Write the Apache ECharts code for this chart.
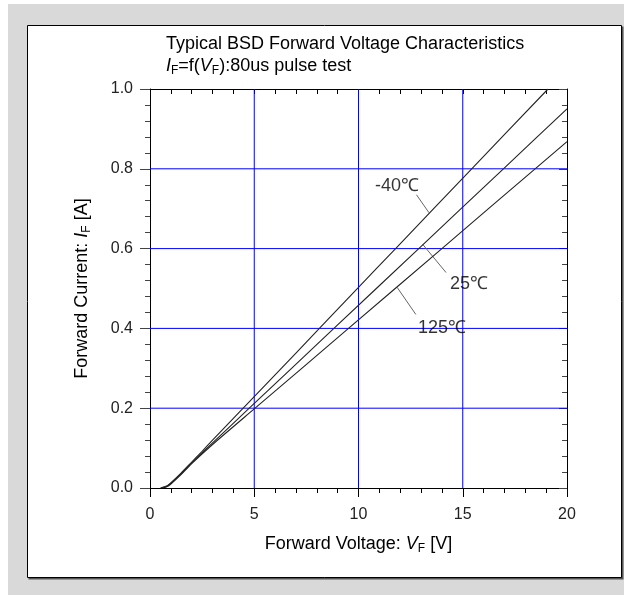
<!DOCTYPE html>
<html><head><meta charset="utf-8">
<script src="https://cdn.jsdelivr.net/npm/echarts@6/dist/echarts.min.js"></script>
<style>html,body{margin:0;padding:0;background:#fff}#c{width:630px;height:595px}</style>
</head><body><div id="c"></div>
<script>
// Data (V in volts, I in amperes)
var vNeg40 = [0.5, 0.8, 1.0, 1.5, 2.0, 2.5, 3.0, 4.47, 7, 10, 11.78, 15.43, 19.09];
var iNeg40 = [0, 0.005, 0.013, 0.038, 0.065, 0.092, 0.12, 0.2, 0.338, 0.503, 0.6, 0.8, 1.0];
var v25 = [0.55, 0.8, 1.0, 1.5, 2.0, 3.0, 4.76, 8.82, 12.89, 16.95, 20];
var i25 = [0, 0.004, 0.012, 0.036, 0.063, 0.113, 0.2, 0.4, 0.6, 0.8, 0.95];
var v125 = [0.6, 0.8, 1.0, 1.5, 2.0, 3.0, 5.04, 9.52, 14.0, 18.47, 20];
var i125 = [0, 0.003, 0.01, 0.034, 0.061, 0.109, 0.2, 0.4, 0.6, 0.8, 0.868];
var seriesNames = ['-40℃', '25℃', '125℃'];
var yTicks = ['0.0', '0.2', '0.4', '0.6', '0.8', '1.0'];
var gridX = [5, 10, 15];
var gridY = [0.2, 0.4, 0.6, 0.8];
// annotation anchors (data coordinates)
var labelPos = [[11.85, 0.757], [15.3, 0.511], [14.0, 0.401]];
var leaderFrom = [[12.78, 0.735], [13.09, 0.61], [11.85, 0.503]];
var leaderTo = [[13.38, 0.69], [14.2, 0.54], [12.75, 0.435]];

function pairs(v, i) { return v.map(function (x, k) { return [x, i[k]]; }); }
var curves = [pairs(vNeg40, iNeg40), pairs(v25, i25), pairs(v125, i125)];

var FONT = 'Liberation Sans, Arial, sans-serif';
var chart = echarts.init(document.getElementById('c'), null, {renderer: 'canvas'});

var series = [];
gridX.forEach(function (x) {
  series.push({type: 'line', data: [[x, 0], [x, 1]], showSymbol: false, silent: true, z: 1,
    lineStyle: {color: '#0000ff', width: 1}});
});
gridY.forEach(function (y) {
  series.push({type: 'line', data: [[0, y], [20, y]], showSymbol: false, silent: true, z: 1,
    lineStyle: {color: '#0000ff', width: 1}});
});
curves.forEach(function (d, k) {
  series.push({
    type: 'line', name: seriesNames[k], data: d, showSymbol: false, smooth: 0.2,
    lineStyle: {color: '#222', width: 1.1}, z: 5, silent: true
  });
  series.push({
    type: 'line', name: 'leader' + k, data: [leaderFrom[k], leaderTo[k]], showSymbol: false,
    lineStyle: {color: '#666', width: 1}, z: 4, silent: true
  });
});
series.push({
  type: 'scatter', name: 'labels', symbolSize: 0, silent: true, z: 6,
  data: labelPos.map(function (p, k) { return {value: p, name: seriesNames[k]}; }),
  label: {show: true, position: 'inside', formatter: '{b}', color: '#000', fontSize: 18, fontFamily: FONT}
});

function rich(sz) {
  return {
    n: {fontSize: sz, fontFamily: FONT, color: '#000', fontWeight: 'normal', lineHeight: 22},
    i: {fontSize: sz, fontFamily: FONT, color: '#000', fontWeight: 'normal', fontStyle: 'italic', lineHeight: 22},
    s: {fontSize: 12, fontFamily: FONT, color: '#000', fontWeight: 'normal', lineHeight: 22, padding: [10, 0, 0, 0]}
  };
}

chart.setOption({
  animation: false,
  backgroundColor: '#fff',
  graphic: [
    {type: 'rect', shape: {x: 8, y: 4, width: 616, height: 591}, style: {fill: '#d9d9d9'}, z: -10},
    {type: 'rect', shape: {x: 28.5, y: 26.5, width: 595, height: 553}, style: {fill: '#555'}, z: -9},
    {type: 'rect', shape: {x: 27.5, y: 25.5, width: 594, height: 552}, style: {fill: '#fff', stroke: '#000', lineWidth: 1}, z: -8}
  ],
  title: {
    left: 161, top: 28,
    text: '{n|Typical BSD Forward Voltage Characteristics}\n{i|I}{s|F}{n|=f(}{i|V}{s|F}{n|):80us pulse test}',
    textStyle: {rich: rich(18), fontSize: 18, fontWeight: 'normal', lineHeight: 22}
  },
  grid: {left: 150, top: 89, right: 63, bottom: 107},
  xAxis: [{
    type: 'value', min: 0, max: 20, interval: 5, position: 'bottom',
    name: '{n|Forward Voltage: }{i|V}{s|F}{n| [V]}', nameLocation: 'middle', nameGap: 45,
    nameTextStyle: {rich: rich(18)},
    axisLine: {show: true, onZero: false, lineStyle: {color: '#000', width: 1}},
    axisTick: {show: true, inside: false, length: 9, lineStyle: {color: '#000'}},
    minorTick: {show: true, splitNumber: 5, length: 5, lineStyle: {color: '#000'}},
    axisLabel: {color: '#222', fontSize: 16, fontFamily: FONT, margin: 19},
    splitLine: {show: false},
    minorSplitLine: {show: false}
  }, {
    type: 'value', min: 0, max: 20, interval: 5, position: 'top',
    axisLine: {show: true, onZero: false, lineStyle: {color: '#000', width: 1}},
    axisTick: {show: true, inside: true, length: 5, lineStyle: {color: '#000'}},
    minorTick: {show: true, splitNumber: 5, length: 5, lineStyle: {color: '#000'}},
    axisLabel: {show: false}, splitLine: {show: false}
  }],
  yAxis: [{
    type: 'value', min: 0, max: 1, interval: 0.2, position: 'left',
    name: '{n|Forward Current: }{i|I}{s|F}{n| [A]}', nameLocation: 'middle', nameGap: 57, nameRotate: 90,
    nameTextStyle: {rich: rich(18)},
    axisLine: {show: true, onZero: false, lineStyle: {color: '#000', width: 1}},
    axisTick: {show: true, inside: false, length: 10, lineStyle: {color: '#444'}},
    minorTick: {show: true, splitNumber: 5, length: 5, lineStyle: {color: '#444'}},
    axisLabel: {color: '#222', fontSize: 16, fontFamily: FONT, margin: 17,
      formatter: function (v) { return yTicks[Math.round(v / 0.2)]; }},
    splitLine: {show: false}
  }, {
    type: 'value', min: 0, max: 1, interval: 0.2, position: 'right',
    axisLine: {show: true, onZero: false, lineStyle: {color: '#000', width: 1}},
    axisTick: {show: true, inside: true, length: 8, lineStyle: {color: '#444'}},
    minorTick: {show: true, splitNumber: 5, length: 5, lineStyle: {color: '#444'}},
    axisLabel: {show: false}, splitLine: {show: false}
  }],
  series: series
});
</script></body></html>
